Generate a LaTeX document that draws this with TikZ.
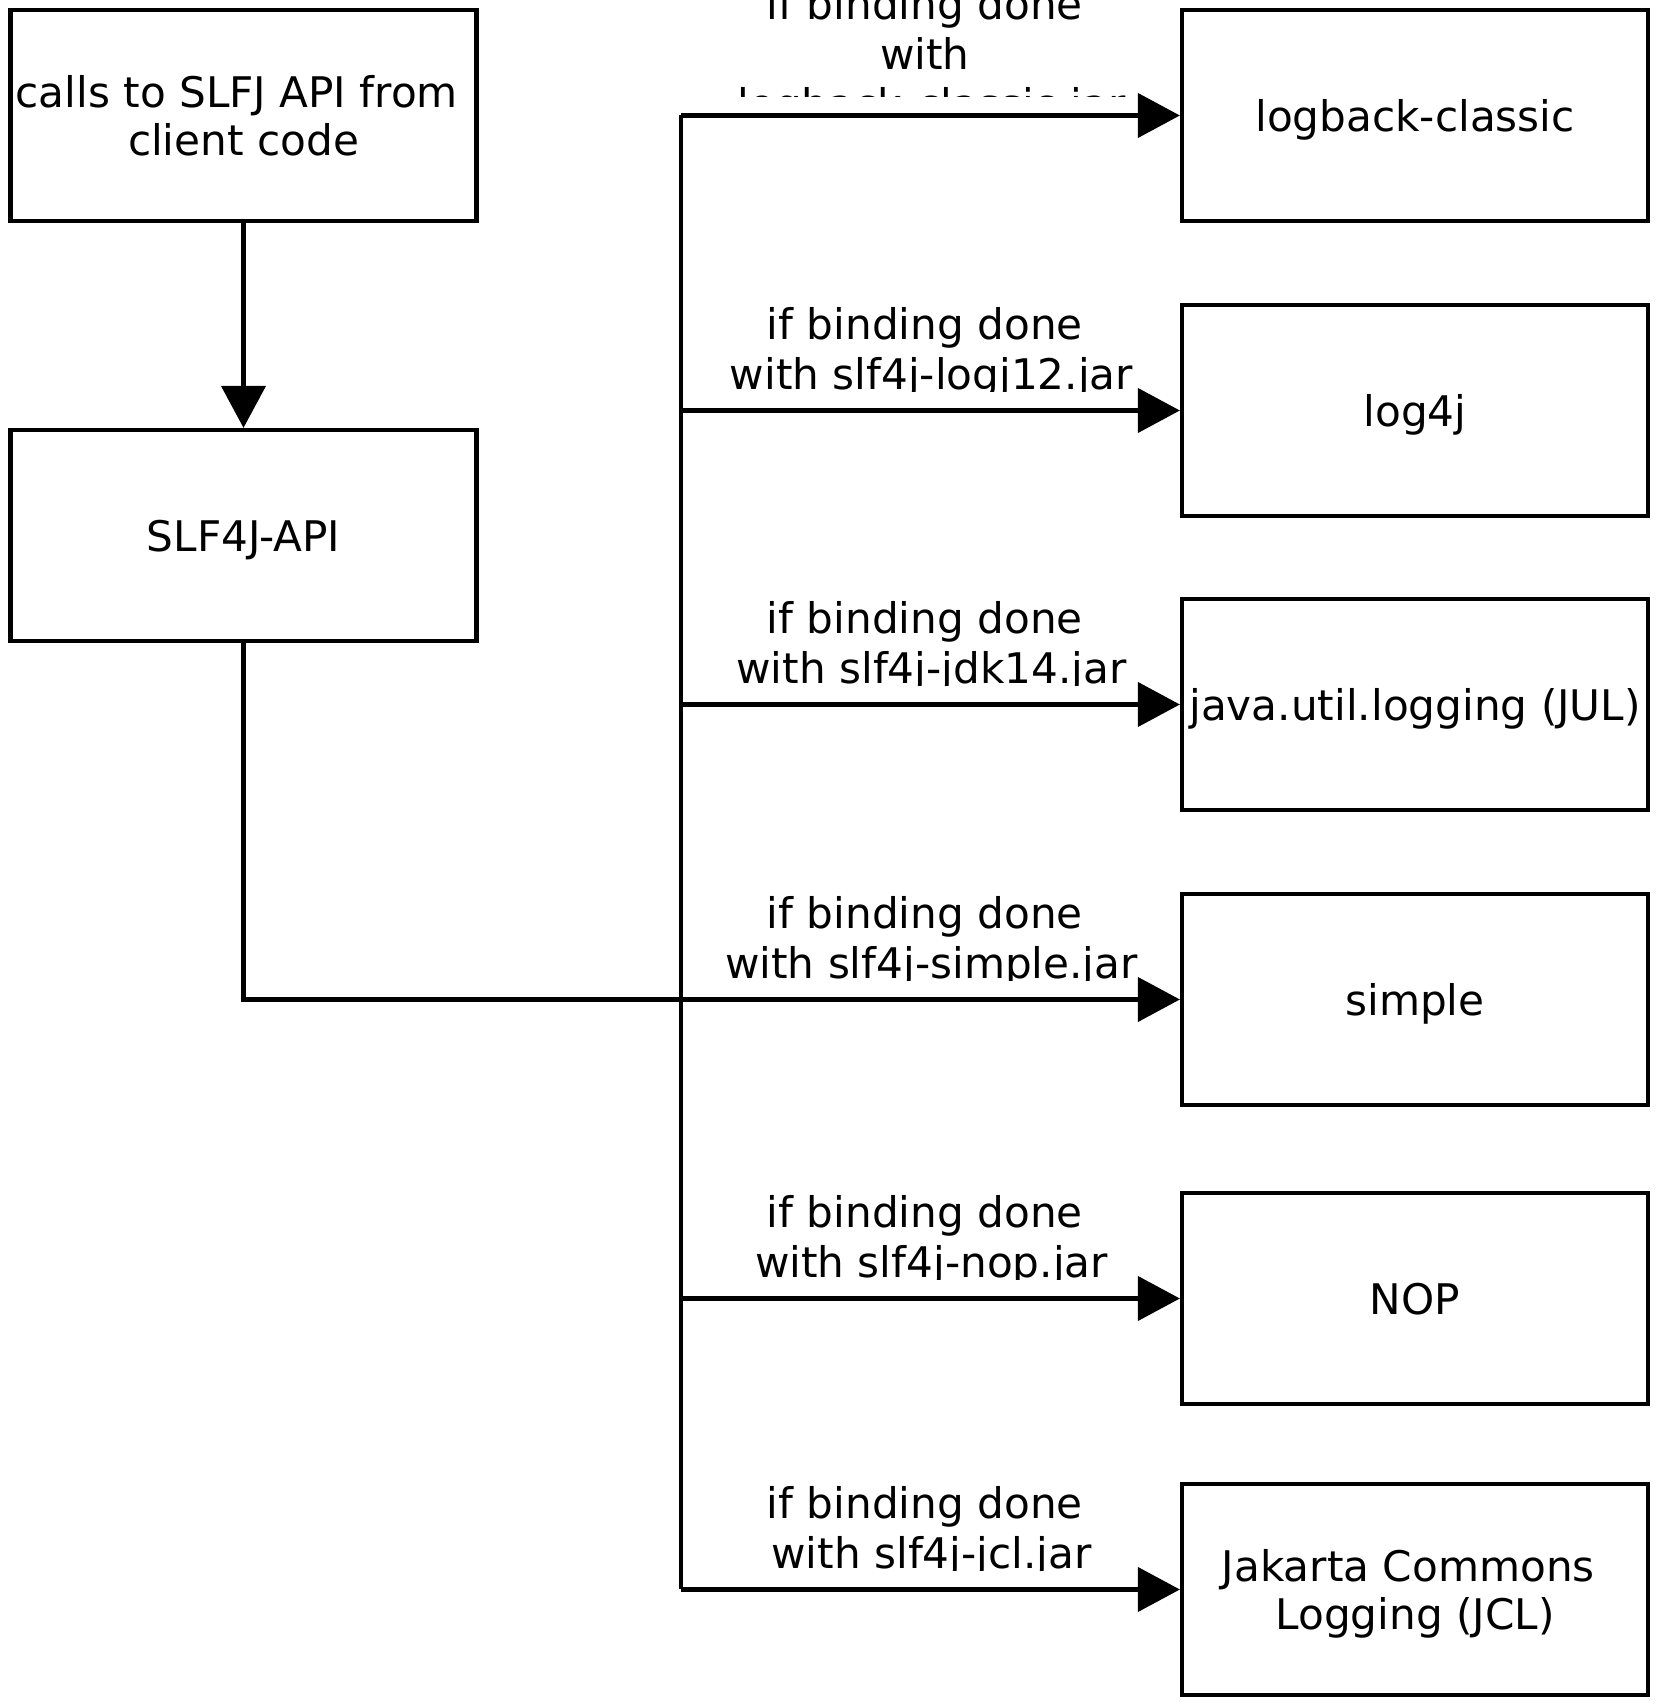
\documentclass[tikz,border=0pt]{standalone}
\usepackage{fontspec}
\setmainfont{DejaVu Sans}
\usetikzlibrary{arrows.meta}

\begin{document}
\begin{tikzpicture}[
    slfbox/.style={shape=rectangle,draw,line width=1.2pt,inner sep=1pt,text depth=0pt,minimum width=4.66cm,minimum height=2.11cm,align=center,font=\fontsize{12}{13.9}\selectfont},
    bindlabel/.style={anchor=north,inner sep=0pt,align=center,font=\fontsize{12}{14.2}\selectfont},
    bindarrow/.style={line width=1.2pt,-{Triangle[length=0.42cm,width=0.44cm]}}
    ]
    \useasboundingbox (0,0) rectangle (16.59,17.05);
    \node[slfbox] (client)  at (2.435,15.895) {calls to SLFJ API from~\null\\client code};
    \node[slfbox] (api)     at (2.435,11.695) {SLF4J-API};
    \node[slfbox] (logback) at (14.15,15.895) {logback-classic};
    \node[slfbox] (log4j)   at (14.15,12.945) {log4j};
    \node[slfbox] (jul)     at (14.15,10.005) {java.util.logging (JUL)};
    \node[slfbox] (simple)  at (14.15,7.055)  {simple};
    \node[slfbox] (nop)     at (14.15,4.065)  {NOP};
    \node[slfbox] (jcl)     at (14.15,1.155)  {Jakarta Commons~\null\\Logging (JCL)};
    \coordinate (trunk) at (6.81,0);
    \begin{scope}
    \clip (6.9,16.085) rectangle (11.7,17.145);
    \node[bindlabel] (logback_lbl) at (9.315,17.185) {if binding done~\null\\with~\null\\logback-classic.jar};
    \end{scope}
    \begin{scope}
    \clip (6.9,13.135) rectangle (11.7,14.195);
    \node[bindlabel] (log4j_lbl) at (9.315,13.985) {if binding done~\null\\with slf4j-logj12.jar};
    \end{scope}
    \begin{scope}
    \clip (6.9,10.195) rectangle (11.7,11.255);
    \node[bindlabel] (jul_lbl) at (9.315,11.045) {if binding done~\null\\with slf4j-jdk14.jar};
    \end{scope}
    \begin{scope}
    \clip (6.9,7.245) rectangle (11.7,8.305);
    \node[bindlabel] (simple_lbl) at (9.315,8.095) {if binding done~\null\\with slf4j-simple.jar};
    \end{scope}
    \begin{scope}
    \clip (6.9,4.255) rectangle (11.7,5.315);
    \node[bindlabel] (nop_lbl) at (9.315,5.105) {if binding done~\null\\with slf4j-nop.jar};
    \end{scope}
    \begin{scope}
    \clip (6.9,1.345) rectangle (11.7,2.405);
    \node[bindlabel] (jcl_lbl) at (9.315,2.195) {if binding done~\null\\with slf4j-jcl.jar};
    \end{scope}
    \draw[bindarrow] (client) -- (api);
    \draw[bindarrow] (api.south) |- (simple.west);
    \draw[line width=1.2pt] (trunk |- logback.west) -- (trunk |- jcl.west);
    \draw[bindarrow] (trunk |- logback.west) -- (logback.west);
    \draw[bindarrow] (trunk |- log4j.west) -- (log4j.west);
    \draw[bindarrow] (trunk |- jul.west) -- (jul.west);
    \draw[bindarrow] (trunk |- nop.west) -- (nop.west);
    \draw[bindarrow] (trunk |- jcl.west) -- (jcl.west);
\end{tikzpicture}
\end{document}
